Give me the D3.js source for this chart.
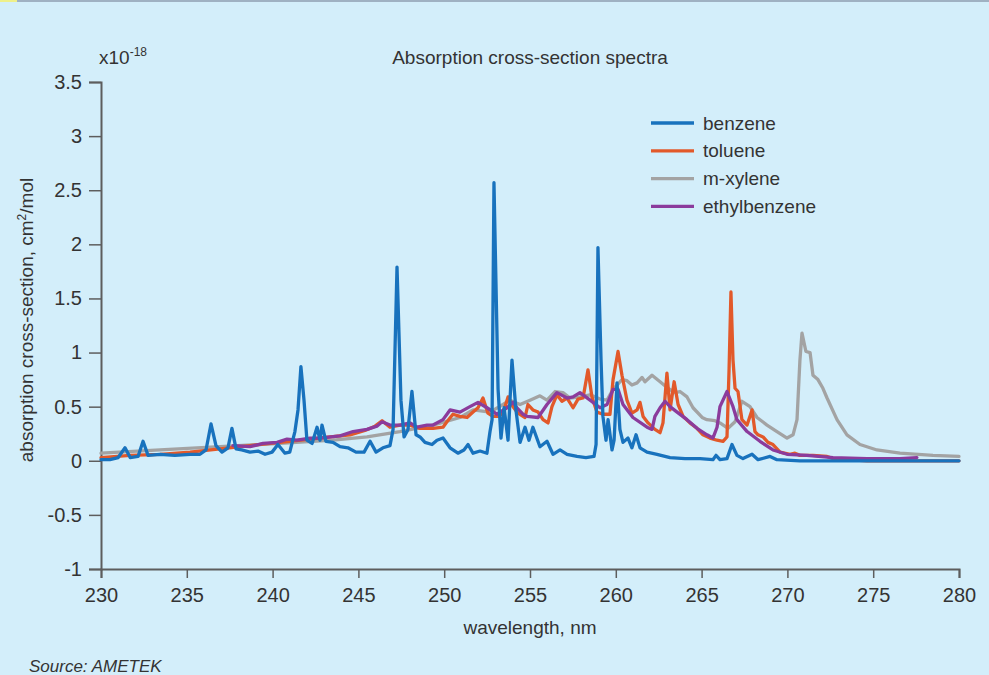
<!DOCTYPE html>
<html>
<head>
<meta charset="utf-8">
<script src="https://cdn.jsdelivr.net/npm/d3@7"></script>
<style>
  html, body { margin: 0; padding: 0; background: #d3eefa; }
  svg { display: block; font-family: "Liberation Sans", Arial, sans-serif; }
</style>
</head>
<body>
<div id="chart"></div>
<script>
// wavelengths (nm) and cross-sections (x1e-18 cm2/mol)
var benzeneWl = [230.0, 230.52, 231.0, 231.4, 231.7, 232.16, 232.45, 232.74, 233.44, 234.3, 235.19, 235.77, 236.12, 236.41, 236.7, 237.05, 237.4, 237.63, 237.87, 238.2, 238.68, 239.15, 239.56, 239.97, 240.31, 240.72, 241.0, 241.3, 241.48, 241.65, 241.83, 242.0, 242.3, 242.59, 242.76, 242.88, 243.11, 243.52, 243.93, 244.39, 244.86, 245.33, 245.68, 246.03, 246.43, 246.84, 247.02, 247.25, 247.48, 247.66, 247.89, 248.12, 248.36, 248.59, 248.88, 249.29, 249.58, 249.93, 250.34, 250.8, 251.15, 251.39, 251.68, 252.09, 252.49, 252.67, 252.79, 252.9, 253.14, 253.31, 253.49, 253.72, 253.95, 254.18, 254.42, 254.71, 254.94, 255.17, 255.58, 255.99, 256.34, 256.75, 257.16, 257.74, 258.26, 258.73, 258.85, 258.96, 259.14, 259.25, 259.43, 259.55, 259.78, 259.9, 260.07, 260.24, 260.42, 260.71, 260.94, 261.18, 261.41, 261.82, 262.4, 263.16, 264.03, 264.91, 265.66, 265.84, 266.07, 266.48, 266.77, 267.06, 267.41, 267.94, 268.29, 268.99, 269.39, 270.73, 273.65, 280.0];
var benzeneVal = [0.01, 0.01, 0.03, 0.12, 0.03, 0.04, 0.18, 0.05, 0.06, 0.05, 0.06, 0.06, 0.1, 0.34, 0.14, 0.08, 0.12, 0.3, 0.11, 0.1, 0.08, 0.09, 0.06, 0.08, 0.15, 0.07, 0.08, 0.27, 0.47, 0.87, 0.56, 0.19, 0.16, 0.31, 0.19, 0.33, 0.18, 0.17, 0.13, 0.12, 0.08, 0.08, 0.18, 0.08, 0.12, 0.14, 0.29, 1.79, 0.56, 0.22, 0.29, 0.64, 0.24, 0.22, 0.17, 0.15, 0.19, 0.21, 0.12, 0.07, 0.1, 0.15, 0.07, 0.09, 0.07, 0.27, 0.38, 2.57, 0.66, 0.21, 0.49, 0.19, 0.93, 0.47, 0.17, 0.31, 0.19, 0.31, 0.13, 0.18, 0.06, 0.1, 0.06, 0.04, 0.03, 0.04, 0.15, 1.97, 0.93, 0.41, 0.19, 0.38, 0.1, 0.19, 0.72, 0.29, 0.17, 0.21, 0.12, 0.24, 0.12, 0.08, 0.06, 0.03, 0.02, 0.02, 0.01, 0.05, 0.01, 0.02, 0.15, 0.05, 0.02, 0.06, 0.01, 0.04, 0.01, 0.0, 0.0, 0.0];

var tolueneWl = [230.0, 231.69, 233.44, 235.19, 236.93, 238.68, 240.43, 242.18, 243.35, 244.51, 245.38, 245.97, 246.38, 246.84, 247.42, 248.01, 248.59, 249.35, 249.93, 250.16, 250.51, 250.92, 251.33, 251.68, 251.97, 252.26, 252.55, 252.84, 253.14, 253.43, 253.72, 254.01, 254.3, 254.71, 254.88, 255.17, 255.47, 255.76, 256.05, 256.28, 256.57, 256.86, 257.16, 257.51, 257.8, 258.09, 258.38, 258.61, 258.9, 259.25, 259.66, 259.84, 260.13, 260.36, 260.65, 260.94, 261.24, 261.41, 261.59, 261.88, 262.28, 262.58, 262.75, 262.98, 263.16, 263.4, 263.63, 263.92, 264.32, 264.73, 265.08, 265.49, 265.9, 266.25, 266.48, 266.6, 266.71, 266.83, 266.95, 267.12, 267.35, 267.65, 267.94, 268.11, 268.29, 268.58, 268.87, 269.16, 269.57, 270.15, 270.44, 270.73, 271.49, 272.31, 272.66, 274.64, 280.0];
var tolueneVal = [0.03, 0.05, 0.06, 0.08, 0.11, 0.14, 0.17, 0.2, 0.22, 0.24, 0.28, 0.32, 0.37, 0.31, 0.33, 0.33, 0.3, 0.3, 0.31, 0.36, 0.43, 0.41, 0.4, 0.45, 0.49, 0.58, 0.44, 0.41, 0.41, 0.44, 0.59, 0.5, 0.44, 0.4, 0.52, 0.47, 0.45, 0.38, 0.35, 0.5, 0.61, 0.55, 0.58, 0.49, 0.57, 0.58, 0.84, 0.59, 0.45, 0.43, 0.43, 0.75, 1.01, 0.79, 0.56, 0.44, 0.47, 0.54, 0.41, 0.35, 0.29, 0.26, 0.35, 0.81, 0.47, 0.73, 0.52, 0.41, 0.35, 0.3, 0.24, 0.21, 0.19, 0.18, 0.22, 0.84, 1.56, 0.93, 0.67, 0.64, 0.38, 0.33, 0.47, 0.27, 0.24, 0.22, 0.17, 0.15, 0.08, 0.06, 0.07, 0.05, 0.05, 0.04, 0.02, 0.0, 0.0];

var xyleneWl = [230.0, 233.44, 236.93, 240.43, 243.52, 245.5, 247.42, 249.35, 250.92, 251.68, 252.67, 253.43, 253.83, 254.42, 255.0, 255.58, 255.99, 256.46, 256.92, 257.33, 257.91, 258.5, 259.08, 259.49, 259.84, 260.36, 260.65, 260.94, 261.24, 261.53, 261.7, 262.11, 262.58, 263.04, 263.45, 263.74, 264.15, 264.5, 265.03, 265.31, 265.78, 266.07, 266.54, 266.95, 267.35, 267.82, 268.23, 268.81, 269.39, 269.98, 270.33, 270.56, 270.73, 270.85, 271.08, 271.32, 271.49, 271.78, 272.07, 272.31, 272.89, 273.47, 274.23, 275.22, 276.56, 278.48, 280.0];
var xyleneVal = [0.07, 0.1, 0.13, 0.16, 0.19, 0.22, 0.27, 0.33, 0.4, 0.47, 0.45, 0.52, 0.56, 0.52, 0.56, 0.6, 0.56, 0.64, 0.63, 0.58, 0.59, 0.61, 0.57, 0.56, 0.66, 0.75, 0.74, 0.7, 0.72, 0.77, 0.73, 0.79, 0.73, 0.67, 0.63, 0.64, 0.59, 0.49, 0.4, 0.38, 0.37, 0.35, 0.3, 0.36, 0.55, 0.5, 0.4, 0.33, 0.27, 0.21, 0.24, 0.38, 0.93, 1.18, 1.01, 1.0, 0.79, 0.75, 0.67, 0.58, 0.38, 0.24, 0.15, 0.1, 0.07, 0.05, 0.04];

var ethylWl = [237.69, 238.68, 239.44, 240.26, 240.84, 241.42, 242.18, 242.76, 243.93, 244.69, 245.5, 246.08, 246.38, 246.84, 247.42, 248.01, 248.41, 249.0, 249.35, 249.93, 250.34, 250.92, 251.5, 251.97, 252.49, 253.08, 253.66, 254.01, 254.24, 254.59, 254.83, 255.47, 255.99, 256.57, 257.16, 257.51, 257.91, 258.5, 259.08, 259.49, 259.84, 260.13, 260.42, 261.0, 261.82, 262.11, 262.28, 262.58, 262.87, 263.16, 263.57, 264.15, 264.73, 265.31, 265.66, 265.9, 266.07, 266.48, 266.83, 267.06, 267.65, 268.4, 269.16, 269.98, 271.14, 272.66, 274.64, 276.56, 277.55];
var ethylVal = [0.14, 0.13, 0.16, 0.17, 0.2, 0.19, 0.21, 0.21, 0.23, 0.27, 0.29, 0.32, 0.36, 0.33, 0.33, 0.35, 0.31, 0.33, 0.33, 0.38, 0.47, 0.45, 0.5, 0.54, 0.49, 0.43, 0.49, 0.54, 0.49, 0.43, 0.41, 0.4, 0.52, 0.63, 0.58, 0.59, 0.63, 0.56, 0.49, 0.52, 0.66, 0.66, 0.52, 0.4, 0.31, 0.29, 0.41, 0.49, 0.55, 0.5, 0.45, 0.38, 0.3, 0.24, 0.21, 0.31, 0.5, 0.64, 0.5, 0.38, 0.27, 0.18, 0.1, 0.06, 0.05, 0.03, 0.02, 0.02, 0.03];

var seriesNames = ["benzene", "toluene", "m-xylene", "ethylbenzene"];
var seriesColors = ["#1872bd", "#e2592a", "#a3a3a3", "#8b3b9c"];

var xTicks = [230, 235, 240, 245, 250, 255, 260, 265, 270, 275, 280];
var yTicks = [-1, -0.5, 0, 0.5, 1, 1.5, 2, 2.5, 3, 3.5];

var width = 989, height = 675;

var svg = d3.select("#chart").append("svg")
    .attr("width", width)
    .attr("height", height);

svg.append("rect").attr("width", width).attr("height", height).attr("fill", "#d3eefa");
// thin strip along the top edge
svg.append("rect").attr("width", width).attr("height", 2).attr("fill", "#9fb1c2");
svg.append("rect").attr("width", 17).attr("height", 2).attr("fill", "#eef08a");

var x = d3.scaleLinear().domain([230, 280]).range([101, 959]);
var y = d3.scaleLinear().domain([-1, 3.5]).range([569, 82]);

var axisColor = "#5d5d5d";
var textColor = "#333";

var xAxis = svg.append("g")
    .attr("transform", "translate(0," + y(-1) + ")")
    .call(d3.axisBottom(x).tickValues(xTicks).tickSize(9).tickPadding(6).tickFormat(d3.format("d")));
var yAxis = svg.append("g")
    .attr("transform", "translate(" + x(230) + ",0)")
    .call(d3.axisLeft(y).tickValues(yTicks).tickSize(12).tickPadding(7).tickFormat(function(d) { return String(d); }));

[xAxis, yAxis].forEach(function(ax) {
    ax.select(".domain").attr("stroke", axisColor).attr("stroke-width", 2);
    ax.selectAll(".tick line").attr("stroke", axisColor).attr("stroke-width", 1.5);
    ax.selectAll(".tick text").attr("fill", textColor).style("font-size", "20px")
        .style("font-family", "'Liberation Sans', Arial, sans-serif");
});
xAxis.selectAll(".tick text").attr("dy", "0.9em");

var line = d3.line()
    .x(function(d) { return x(d[0]); })
    .y(function(d) { return y(d[1]); });

var seriesData = [
    d3.zip(benzeneWl, benzeneVal),
    d3.zip(tolueneWl, tolueneVal),
    d3.zip(xyleneWl, xyleneVal),
    d3.zip(ethylWl, ethylVal)
];

// draw order: m-xylene, toluene, ethylbenzene, benzene on top
[2, 1, 3, 0].forEach(function(i) {
    svg.append("path")
        .datum(seriesData[i])
        .attr("d", line)
        .attr("fill", "none")
        .attr("stroke", seriesColors[i])
        .attr("stroke-width", 3.3)
        .attr("stroke-linejoin", "round")
        .attr("stroke-linecap", "round");
});

// legend
var legend = svg.append("g").attr("transform", "translate(651,123)");
seriesNames.forEach(function(name, i) {
    var g = legend.append("g").attr("transform", "translate(0," + (i * 27.8) + ")");
    g.append("line").attr("x1", 0).attr("x2", 43).attr("y1", 0).attr("y2", 0)
        .attr("stroke", seriesColors[i]).attr("stroke-width", 3.3);
    g.append("text").attr("x", 52).attr("y", 0).attr("dy", "0.35em")
        .attr("fill", textColor).style("font-size", "19px").text(name);
});

// title and multiplier
svg.append("text").attr("x", 530).attr("y", 64).attr("text-anchor", "middle")
    .attr("fill", textColor).style("font-size", "19px")
    .text("Absorption cross-section spectra");

var mult = svg.append("text").attr("x", 99).attr("y", 64)
    .attr("fill", textColor).style("font-size", "19px");
mult.append("tspan").text("x10");
mult.append("tspan").attr("dy", -8).style("font-size", "12px").text("-18");

// axis labels
svg.append("text").attr("x", 530).attr("y", 634).attr("text-anchor", "middle")
    .attr("fill", textColor).style("font-size", "19px")
    .text("wavelength, nm");

var yl = svg.append("text")
    .attr("transform", "translate(33,320) rotate(-90)")
    .attr("text-anchor", "middle")
    .attr("fill", textColor).style("font-size", "19px");
yl.append("tspan").text("absorption cross-section, cm");
yl.append("tspan").attr("dy", -7).style("font-size", "12px").text("2");
yl.append("tspan").attr("dy", 7).text("/mol");

svg.append("text").attr("x", 29).attr("y", 672)
    .attr("fill", textColor).style("font-size", "17px").style("font-style", "italic")
    .text("Source: AMETEK");
</script>
</body>
</html>
